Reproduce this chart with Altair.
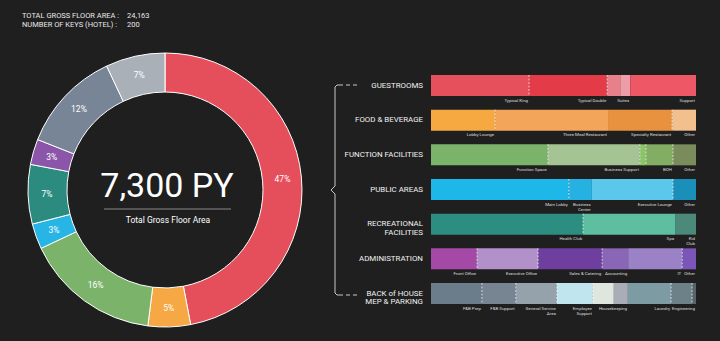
import altair as alt
import pandas as pd

# ---------------- data ----------------
header_labels = ["TOTAL GROSS FLOOR AREA :", "NUMBER OF KEYS (HOTEL)  :"]
header_values = ["24,163", "200"]

donut_names = ["Guestrooms", "Food & Beverage", "Function Facilities", "Public Areas",
               "Recreational Facilities", "Administration", "Back of House", "MEP & Parking"]
donut_share = [47, 5, 16, 3, 7, 3, 12, 7]
donut_colors = ["#E54E5B", "#F5A843", "#7BB36B", "#27B5E6", "#2A8B7E", "#8B55AA", "#788597", "#A9B0B8"]

center_value = "7,300 PY"
center_caption = "Total Gross Floor Area"

categories = ["GUESTROOMS", "FOOD & BEVERAGE", "FUNCTION FACILITIES", "PUBLIC AREAS",
              "RECREATIONAL\nFACILITIES", "ADMINISTRATION", "BACK of HOUSE\nMEP & PARKING"]

guest_labels = ["Typical King", "Typical Double", "", "Suites", "Support"]
guest_values = [37.0, 29.5, 4.9, 3.8, 24.8]
guest_colors = ["#E6505D", "#E33B48", "#E8808B", "#EE9DA8", "#EE5866"]
guest_dash = [1, 1, 0, 0, 0]

fb_labels = ["Lobby Lounge", "Three Meal Restaurant", "Specialty Restaurant", "Other"]
fb_values = [24.2, 42.6, 24.2, 9.0]
fb_colors = ["#F6A841", "#F3A55A", "#E8923F", "#F2C08C"]
fb_dash = [1, 0, 1, 0]

func_labels = ["Function Space", "Business Support", "", "BOH", "Other"]
func_values = [44.1, 34.7, 2.3, 10.2, 8.7]
func_colors = ["#7CB36B", "#A5C493", "#8CC46A", "#82AD62", "#7A8C5C"]
func_dash = [1, 1, 1, 1, 0]

pub_labels = ["Main Lobby", "Business\nCenter", "Executive Lounge", "Other"]
pub_values = [52.0, 8.7, 30.6, 8.7]
pub_colors = ["#1DB7EA", "#25B2E2", "#5BC8EB", "#1A8FBA"]
pub_dash = [1, 0, 1, 0]

rec_labels = ["Health Club", "Spa", "Kid\nClub"]
rec_values = [57.4, 34.7, 7.9]
rec_colors = ["#2B8E80", "#5EBEA0", "#4B8A79"]
rec_dash = [1, 0, 0]

adm_labels = ["Front Office", "Executive Office", "Sales & Catering", "Accounting", "IT", "Other"]
adm_values = [17.4, 23.0, 24.2, 9.8, 20.4, 5.2]
adm_colors = ["#A549A7", "#B291CB", "#6E3F9E", "#8A66B6", "#9B82C6", "#7C55B8"]
adm_dash = [1, 1, 1, 0, 1, 0]

boh_labels = ["F&B Prep", "F&B Support", "General Service\nArea", "Employee\nSupport", "",
              "Housekeeping", "Laundry", "", "Engineering"]
boh_values = [19.2, 12.8, 15.5, 13.6, 7.9, 5.3, 16.3, 7.9, 1.5]
boh_colors = ["#6B7D8B", "#778593", "#95A2AC", "#C0E5EF", "#DEE6DE", "#A9ADB6", "#7C9BA3", "#6D8189", "#56656D"]
boh_dash = [1, 1, 1, 1, 0, 0, 1, 1, 0]

# ---------------- tables ----------------
groups = [
    (guest_labels, guest_values, guest_colors, guest_dash),
    (fb_labels, fb_values, fb_colors, fb_dash),
    (func_labels, func_values, func_colors, func_dash),
    (pub_labels, pub_values, pub_colors, pub_dash),
    (rec_labels, rec_values, rec_colors, rec_dash),
    (adm_labels, adm_values, adm_colors, adm_dash),
    (boh_labels, boh_values, boh_colors, boh_dash),
]
rows = []
for r, (labs, vals, cols, dashes) in enumerate(groups):
    acc = 0.0
    for lab, v, c, d in zip(labs, vals, cols, dashes):
        rows.append({"row": r, "label": lab, "start": acc, "end": acc + v, "color": c, "dash": d})
        acc += v
seg = pd.DataFrame(rows)
cat_df = pd.DataFrame({"row": list(range(len(categories))), "cat": categories})
donut = pd.DataFrame({"name": donut_names, "share": donut_share, "color": donut_colors,
                      "idx": list(range(len(donut_names))),
                      "pct": [f"{s}%" for s in donut_share]})

BG = "#1F1F1F"
XS = alt.Scale(domain=[0, 100], range=[431, 696], nice=False, zero=False)
YS = alt.Scale(domain=[0, 6], range=[85.5, 293.5], nice=False, zero=False)
HALF = 0.303

base_seg = alt.Chart(seg).transform_calculate(y0=f"datum.row - {HALF}", y1=f"datum.row + {HALF}")

bars = base_seg.mark_rect().encode(
    x=alt.X("start:Q", scale=XS, axis=None),
    x2="end:Q",
    y=alt.Y("y0:Q", scale=YS, axis=None),
    y2="y1:Q",
    color=alt.Color("color:N", scale=None),
)
dashes = base_seg.transform_filter("datum.dash == 1").mark_rule(
    color="white", strokeWidth=0.8, strokeDash=[2, 1.5], opacity=0.9
).encode(
    x=alt.X("end:Q", scale=XS, axis=None),
    y=alt.Y("y0:Q", scale=YS, axis=None),
    y2="y1:Q",
)
sublabels = base_seg.mark_text(
    align="right", baseline="top", dy=2.5, dx=-1, fontSize=4.4, color="#DDDDDD",
    font="Roboto", lineBreak="\n", lineHeight=5
).encode(
    x=alt.X("end:Q", scale=XS, axis=None),
    y=alt.Y("y1:Q", scale=YS, axis=None),
    text="label:N",
)
cat_labels = alt.Chart(cat_df).mark_text(
    align="right", baseline="middle", fontSize=7.9, color="#F2F2F2",
    font="Roboto", lineBreak="\n", lineHeight=8.5
).encode(
    x=alt.value(423),
    y=alt.Y("row:Q", scale=YS, axis=None),
    text="cat:N",
)

CX, CY = 165, 190
arcs = alt.Chart(donut).mark_arc(outerRadius=137, innerRadius=98, stroke="white", strokeWidth=1).encode(
    theta=alt.Theta("share:Q", stack=True),
    order=alt.Order("idx:Q"),
    color=alt.Color("color:N", scale=None),
    x=alt.value(CX), y=alt.value(CY),
)
pct = alt.Chart(donut).mark_text(radius=118, fontSize=8.5, color="white", font="Roboto").encode(
    theta=alt.Theta("share:Q", stack=True),
    order=alt.Order("idx:Q"),
    text="pct:N",
    x=alt.value(CX), y=alt.value(CY),
)

center_txt = alt.Chart(pd.DataFrame({"t": [center_value]})).mark_text(
    fontSize=34, color="white", font="Roboto", baseline="middle", align="center"
).encode(text="t:N", x=alt.value(167), y=alt.value(187))
caption = alt.Chart(pd.DataFrame({"t": [center_caption]})).mark_text(
    fontSize=8.5, color="white", font="Roboto", baseline="middle", align="center"
).encode(text="t:N", x=alt.value(168), y=alt.value(220))
divider = alt.Chart(pd.DataFrame({"a": [0]})).mark_rule(color="#8A8A8A", strokeWidth=1).encode(
    x=alt.value(104), x2=alt.value(231), y=alt.value(209)
)

hdr = pd.DataFrame({"lab": header_labels, "val": header_values, "ln": [0, 1]})
hdr_lab = alt.Chart(hdr).mark_text(align="left", baseline="middle", fontSize=7.5, color="#E8E8E8",
                                   font="Roboto").encode(
    text="lab:N", x=alt.value(22),
    y=alt.Y("ln:Q", scale=alt.Scale(domain=[0, 1], range=[16, 25]), axis=None))
hdr_val = alt.Chart(hdr).mark_text(align="left", baseline="middle", fontSize=7.5, color="#E8E8E8",
                                   font="Roboto").encode(
    text="val:N", x=alt.value(127),
    y=alt.Y("ln:Q", scale=alt.Scale(domain=[0, 1], range=[16, 25]), axis=None))

BC = "#C8C8C8"
def rule(x1, x2, y1, y2, dash=None):
    kw = dict(color=BC, strokeWidth=1)
    if dash:
        kw["strokeDash"] = dash
    return alt.Chart(pd.DataFrame({"a": [0]})).mark_rule(**kw).encode(
        x=alt.value(x1), x2=alt.value(x2), y=alt.value(y1), y2=alt.value(y2))

bracket = [
    rule(335, 335, 87, 186), rule(335, 335, 194, 293),
    rule(335, 331, 186, 190), rule(331, 335, 190, 194),
    rule(335, 337, 87, 85), rule(335, 337, 293, 295),
    rule(337, 343, 85, 85), rule(337, 343, 295, 295),
    rule(346, 358, 85, 85, [4, 3]), rule(346, 358, 295, 295, [4, 3]),
]

chart = alt.layer(
    bars, dashes, sublabels, cat_labels, arcs, pct, center_txt, caption, divider,
    hdr_lab, hdr_val, *bracket
).resolve_scale(y="independent").properties(
    width=720, height=341, padding=0, autosize=alt.AutoSizeParams(type="none")
).configure(background=BG).configure_view(stroke=None)

chart.save("out.html", embed_options={"renderer": "svg", "actions": False})
